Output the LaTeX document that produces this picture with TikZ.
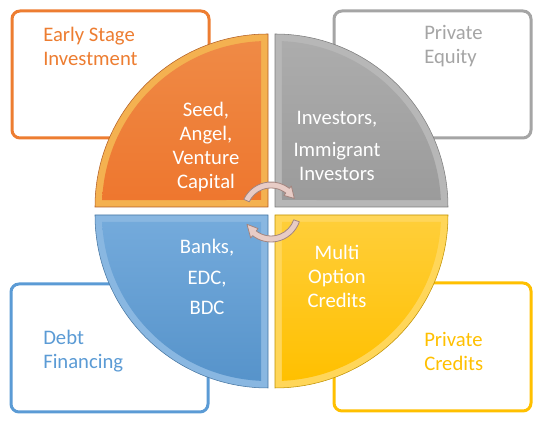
\documentclass[tikz,border=0pt]{standalone}
\usepackage{fontspec}
\setmainfont{Carlito}
\usetikzlibrary{calc}

\definecolor{ostage}{HTML}{ED7D31}
\definecolor{gequity}{HTML}{A5A5A5}
\definecolor{bdebt}{HTML}{5B9BD5}
\definecolor{ycredit}{HTML}{FFC000}
\definecolor{arrowfill}{HTML}{E8CCC6}
\definecolor{arrowline}{HTML}{A3857F}

\begin{document}
\begin{tikzpicture}[x=0.75pt,y=0.75pt,
    boxframe/.style={line width=2.25pt,rounded corners=6pt,fill=white},
    boxtext/.style={anchor=west,align=left,inner sep=0pt,font=\fontsize{15.5}{18}\selectfont},
    quadtext/.style={align=center,inner sep=0pt,text=white,font=\fontsize{15.5}{18}\selectfont}]
  \useasboundingbox (0,0) rectangle (544,423);
  \coordinate (O1) at (268,216);
  \coordinate (O2) at (275,216);
  \coordinate (O3) at (268,208);
  \coordinate (O4) at (275,208);
  \coordinate (C) at (271,211);

  % outer boxes, drawn under the quarter discs
  \draw[boxframe,draw=ostage] (12,285) rectangle (209,412);
  \draw[boxframe,draw=gequity] (334,285) rectangle (531,412);
  \draw[boxframe,draw=bdebt] (11,11) rectangle (208,139);
  \draw[boxframe,draw=ycredit] (334,12) rectangle (531,140);
  \node[boxtext,text=ostage] (early) at (43,376.5) {Early Stage\\Investment};
  \node[boxtext,text=gequity] (equity) at (424,376.5) {Private\\Equity};
  \node[boxtext,text=bdebt] (debt) at (43,72) {Debt\\Financing};
  \node[boxtext,text=ycredit] (credits) at (424,72) {Private\\Credits};

  % quarter discs: bevel band first, then the inner face
  \fill[draw=ostage!75!black,fill=ostage!75!yellow!80!white] (O1) -- +(-173,0) arc[start angle=180,end angle=90,radius=173] -- cycle;
  \shade[top color=ostage!90!white,bottom color=ostage!95!red] ($(O1)+(-7,7)$) -- ($(O1)+(177.6:166)$) arc[start angle=177.6,end angle=92.4,radius=166] -- cycle;
  \fill[draw=gequity!75!black,fill=gequity!80!white] (O2) -- +(0,173) arc[start angle=90,end angle=0,radius=173] -- cycle;
  \shade[top color=gequity!92!white,bottom color=gequity!94!black] ($(O2)+(7,7)$) -- ($(O2)+(87.6:166)$) arc[start angle=87.6,end angle=2.4,radius=166] -- cycle;
  \fill[draw=bdebt!75!black,fill=bdebt!72!white] (O3) -- +(0,-173) arc[start angle=270,end angle=180,radius=173] -- cycle;
  \shade[top color=bdebt!85!white,bottom color=bdebt!95!black] ($(O3)+(-7,-7)$) -- ($(O3)+(267.6:166)$) arc[start angle=267.6,end angle=182.4,radius=166] -- cycle;
  \fill[draw=ycredit!75!black,fill=ycredit!65!white] (O4) -- +(173,0) arc[start angle=0,end angle=-90,radius=173] -- cycle;
  \shade[top color=ycredit!78!white,bottom color=ycredit] ($(O4)+(7,-7)$) -- ($(O4)+(-2.4:166)$) arc[start angle=-2.4,end angle=-87.6,radius=166] -- cycle;

  \node[quadtext] (seed) at (206,275.5) {Seed,\\Angel,\\Venture\\Capital};
  \node[quadtext] (investors) at (337,277.5) {Investors,\\[6pt]Immigrant\\Investors};
  \node[quadtext] (banks) at (207,146) {Banks,\\[5pt]EDC,\\[5pt]BDC};
  \node[quadtext] (multi) at (337,146.5) {Multi\\Option\\Credits};

  % circular arrows in the middle
  \filldraw[fill=arrowfill,draw=arrowline,line width=0.6pt,line join=round]
    ($(C)+(155:30)$) arc[start angle=155,end angle=52,radius=30] -- ($(C)+(52:33)$)
    -- ($(C)+(30:27)$) -- ($(C)+(52:21)$) -- ($(C)+(52:24)$)
    arc[start angle=52,end angle=155,radius=24] -- cycle;
  \filldraw[fill=arrowfill,draw=arrowline,line width=0.6pt,line join=round]
    ($(C)+(-19:30)$) arc[start angle=-19,end angle=-128,radius=30] -- ($(C)+(-128:33)$)
    -- ($(C)+(-153:27)$) -- ($(C)+(-128:21)$) -- ($(C)+(-128:24)$)
    arc[start angle=-128,end angle=-19,radius=24] -- cycle;
\end{tikzpicture}
\end{document}
